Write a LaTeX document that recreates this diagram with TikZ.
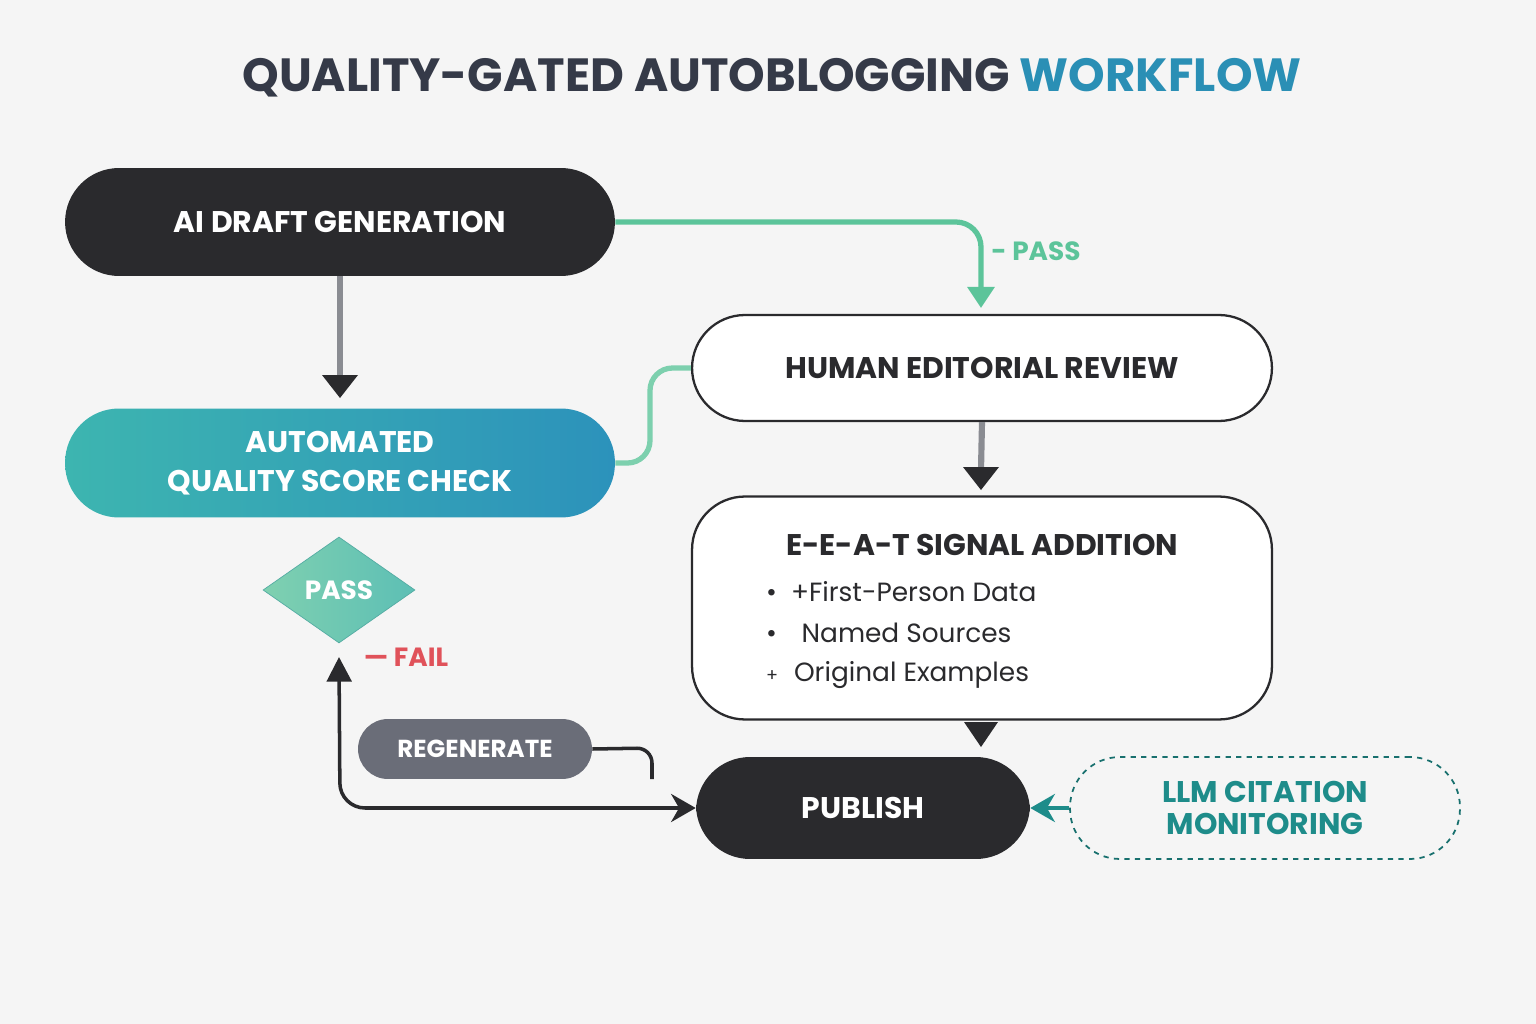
\documentclass[tikz,border=0pt]{standalone}
\usepackage{fontspec}
\setmainfont{Poppins}
\usetikzlibrary{shapes.geometric,arrows.meta,positioning}
\definecolor{ink}{HTML}{2A2A2D}
\definecolor{titlegray}{HTML}{353A48}
\definecolor{wfblue}{HTML}{2A8FB5}
\definecolor{passgreen}{HTML}{5CC49A}
\definecolor{tealA}{HTML}{3DB5B0}
\definecolor{tealB}{HTML}{2C92BB}
\definecolor{diamondA}{HTML}{7FD0B0}
\definecolor{diamondB}{HTML}{5DBFB5}
\definecolor{failred}{HTML}{E0525A}
\definecolor{regen}{HTML}{6A6D78}
\definecolor{llmteal}{HTML}{1E8C8A}
\definecolor{linkgray}{HTML}{8A8C92}
\tikzset{
  darkbox/.style={rectangle, rounded corners=1.08cm, fill=ink, text=white, minimum height=2.16cm, font=\bfseries\fontsize{17}{21}\selectfont},
  lightbox/.style={rectangle, rounded corners=1.06cm, draw=ink, line width=1.3pt, fill=white, text=ink, font=\bfseries\fontsize{17}{21}\selectfont},
  tip/.style={-{Triangle[length=12pt,width=15pt]}},
  bul/.style={anchor=west, text=ink, font=\fontsize{15}{19}\selectfont}
}
\begin{document}
\begin{tikzpicture}[x=0.02cm,y=-0.02cm]
\fill[white!96!black] (0,0) rectangle (1536,1024);
\useasboundingbox (0,0) rectangle (1536,1024);
% title
\node (title) at (772,78) {\fontsize{26.5}{30}\selectfont\bfseries\color{titlegray}QUALITY-GATED AUTOBLOGGING \color{wfblue}WORKFLOW};
% boxes
\node[darkbox, minimum width=11cm] (draft) at (340,222) {AI DRAFT GENERATION};
\node[rectangle, rounded corners=1.08cm, minimum width=11cm, minimum height=2.18cm, left color=tealA, right color=tealB, text=white, align=center, font=\bfseries\fontsize{17}{22}\selectfont] (auto) at (340,463) {AUTOMATED\\QUALITY SCORE CHECK};
\node[lightbox, minimum width=11.6cm, minimum height=2.12cm] (human) at (982,368) {HUMAN EDITORIAL REVIEW};
\node[lightbox, minimum width=11.6cm, minimum height=4.46cm] (eeat) at (982,608) {};
\node[text=ink, font=\bfseries\fontsize{17}{21}\selectfont] (eeattitle) at (982,545) {E-E-A-T SIGNAL ADDITION};
\node[bul] (b1) at (760,592) {•\hspace{8pt}+First-Person Data};
\node[bul] (b2) at (760,633) {•\hspace{14pt}Named Sources};
\node[bul] (b3) at (760,675) {{\fontsize{10}{10}\selectfont+}\hspace{9pt}Original Examples};
\node[darkbox, minimum width=6.68cm, minimum height=2.04cm] (publish) at (863,808) {PUBLISH};
\node[rectangle, rounded corners=1cm, draw=llmteal!80!black, dashed, line width=1pt, minimum width=7.8cm, minimum height=2.04cm, text=llmteal, align=center, font=\bfseries\fontsize{17}{18}\selectfont] (llm) at (1265,808) {LLM CITATION\\MONITORING};
\node[diamond, aspect=1.45, minimum width=3.04cm, minimum height=2.12cm, inner sep=0pt, left color=diamondA, right color=diamondB, draw=diamondB!90!black, text=white, font=\bfseries\fontsize{15}{18}\selectfont] (pass) at (339,590) {PASS};
\node[rectangle, rounded corners=0.6cm, fill=regen, text=white, minimum width=4.68cm, minimum height=1.2cm, font=\bfseries\fontsize{14}{17}\selectfont] (regen) at (475,749) {REGENERATE};
% labels
\node[text=passgreen, font=\bfseries\fontsize{15}{18}\selectfont] (passlbl) at (1036,251) {- PASS};
\node[text=failred, font=\bfseries\fontsize{15}{18}\selectfont] (faillbl) at (406,657) {— FAIL};
\coordinate (regenend) at (652,779);
% connectors
\draw[passgreen, line width=3pt, rounded corners=0.5cm, tip] (draft.east) -- (981,222) -- (981,308);
\draw[linkgray, line width=3.5pt] (draft.south) -- (340,380);
\fill[ink] (322,375) -- (358,375) -- (340,398) -- cycle;
\draw[passgreen!80!white, line width=3pt, rounded corners=0.45cm] (auto.east) -- (650,463) -- (650,368) -- (human.west);
\draw[linkgray, line width=3.5pt] (human.south) -- (981,470);
\fill[ink] (963,467) -- (999,467) -- (981,490) -- cycle;
\fill[ink] (964,722) -- (998,722) -- (981,747) -- cycle;
\draw[ink, line width=2pt, rounded corners=0.5cm, {Triangle[length=14pt,width=14pt]}-{Stealth[length=14pt,width=16pt]}] (pass.south |- 0,657) -- (340,808) -- (publish.west);
\draw[ink, line width=2pt, rounded corners=0.3cm] (regen.east) -- (652,748) -- (regenend);
\draw[llmteal, line width=2pt, -{Stealth[length=14pt,width=16pt]}] (llm.west) -- (publish.east);
\end{tikzpicture}
\end{document}
